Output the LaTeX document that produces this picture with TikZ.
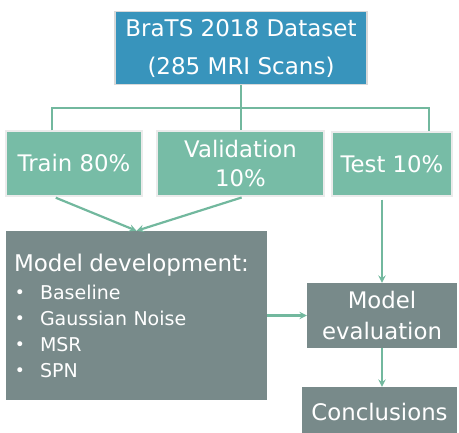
\documentclass[tikz,border=0pt]{standalone}
\usepackage{fontspec}
\setmainfont{DejaVu Sans}
\usepackage{tikz}
\usetikzlibrary{shapes,arrows,positioning,calc}
\definecolor{dataBlue}{HTML}{3894BC}
\definecolor{splitTeal}{HTML}{77BCA6}
\definecolor{stepGray}{HTML}{788A8A}
\definecolor{linkTeal}{HTML}{72B89E}
\tikzstyle{dataset} = [rectangle, text centered, text=white, fill=dataBlue, draw=black!15, line width=1.2pt, font=\fontsize{23}{38}\selectfont, align=center]
\tikzstyle{split} = [rectangle, text centered, text=white, fill=splitTeal, draw=black!8, line width=1.2pt, font=\fontsize{22.8}{29}\selectfont, align=center]
\tikzstyle{stage} = [rectangle, text centered, text=white, fill=stepGray, font=\fontsize{22.8}{31}\selectfont, align=center]
\tikzstyle{line} = [line width=2.2pt, draw=linkTeal]
\tikzstyle{arrow} = [line width=2.2pt, draw=linkTeal, ->, >=stealth]
\newcommand{\stagebullet}{\makebox[26pt][l]{\hspace{1pt}\raisebox{0.5pt}{\fontsize{17}{17}\selectfont\textbullet}}}

\begin{document}
\begin{tikzpicture}[x=1pt,y=1pt]
	\useasboundingbox (0,0) rectangle (459,433);
	\node (Dataset) [dataset, minimum width=252pt, minimum height=73pt] at (241,385) {BraTS 2018 Dataset\\(285 MRI Scans)};
	\node (Train) [split, minimum width=136pt, minimum height=65pt] at (74,269.5) {Train 80\%};
	\node (Validation) [split, minimum width=167pt, minimum height=65pt] at (240.5,269.5) {Validation\\10\%};
	\node (Test) [split, minimum width=120pt, minimum height=64pt] at (392,269) {Test 10\%};
	\node (Development) [stage, minimum width=261pt, minimum height=169pt, text width=245pt, inner sep=8pt, align=left, font=\fontsize{19}{26}\selectfont] at (136.5,117.5)
		{{\fontsize{23}{28}\selectfont Model development:}\\[2pt]
		\stagebullet Baseline\\
		\stagebullet Gaussian Noise\\
		\stagebullet MSR\\
		\stagebullet SPN};
	\node (Evaluation) [stage, minimum width=150pt, minimum height=65pt] at (382,117.5) {Model\\evaluation};
	\node (Conclusions) [stage, minimum width=155pt, minimum height=50pt] at (379.5,21) {Conclusions};
	\coordinate (Branch) at (241,325);

	\draw[line] (Dataset.south) -- (Dataset.south |- Validation.north);
	\draw[line] ([xshift=-22pt]Train.north) |- (Branch) -| ([xshift=37pt]Test.north);
	\draw[arrow, shorten <=3pt] ([xshift=-21pt]Train.south) -- (Development.north);
	\draw[arrow, shorten <=3pt] ([xshift=4pt]Validation.south) -- (Development.north);
	\draw[arrow, shorten <=3pt] (Test.south -| Evaluation.north) -- (Evaluation.north);
	\draw[arrow] (Development.east) -- (Evaluation.west);
	\draw[arrow] (Evaluation.south) -- (Conclusions.north -| Evaluation.south);
\end{tikzpicture}
\end{document}
